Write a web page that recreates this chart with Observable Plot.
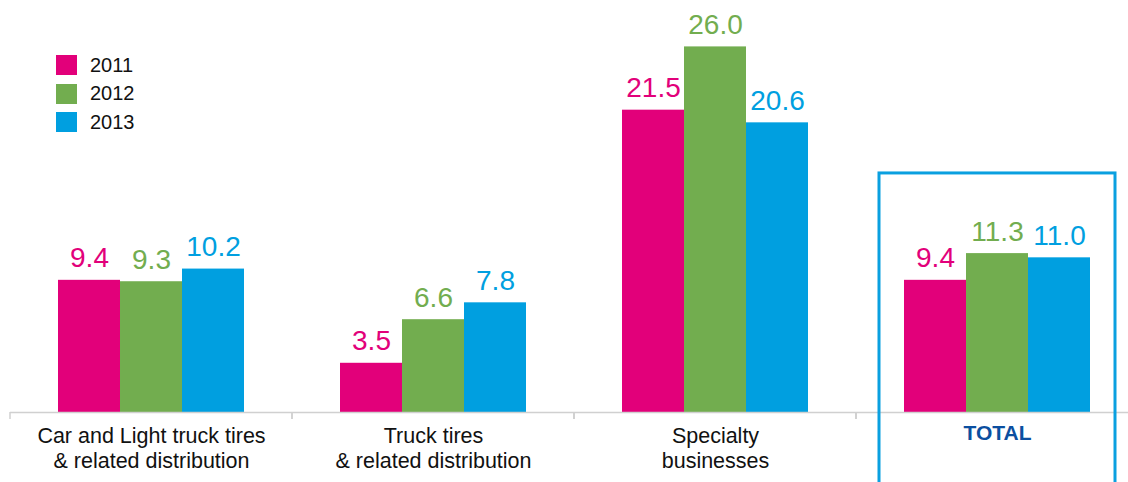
<!DOCTYPE html>
<html>
<head>
<meta charset="utf-8">
<script src="https://cdn.jsdelivr.net/npm/d3@7"></script>
<script src="https://cdn.jsdelivr.net/npm/@observablehq/plot@0.6"></script>
<style>
  html, body { margin: 0; padding: 0; background: #fff; overflow: hidden; }
  #wrap { position: relative; width: 1128px; height: 482px; font-family: "Liberation Sans", Arial, sans-serif; }
  #legend { position: absolute; left: 56px; top: 51px; }
  .item { display: flex; align-items: center; height: 28.5px; font-size: 20px; color: #111; }
  .sw { width: 21px; height: 20px; margin-right: 13px; flex: none; }
</style>
</head>
<body>
<div id="wrap"><div id="legend"></div></div>
<script>
const categories = ["Car and Light truck tires", "Truck tires", "Specialty businesses", "TOTAL"];
const categoryLabels = ["Car and Light truck tires\n& related distribution", "Truck tires\n& related distribution", "Specialty\nbusinesses", "TOTAL"];
const years = ["2011", "2012", "2013"];
const values2011 = [9.4, 3.5, 21.5, 9.4];
const values2012 = [9.3, 6.6, 26.0, 11.3];
const values2013 = [10.2, 7.8, 20.6, 11.0];
const colors = ["#e2007a", "#72ad4f", "#009fe0"];
const totalBoxTop = 17;

const series = [values2011, values2012, values2013];
const data = [];
categories.forEach((c, i) => years.forEach((y, j) => data.push({cat: c, year: y, value: series[j][i]})));
const labelData = categories.map((c, i) => ({cat: c, label: categoryLabels[i]}));

const font = "'Liberation Sans', Arial, sans-serif";

const boundaryTicks = (index, scales, values, dimensions) => {
  const g = d3.create("svg:g");
  const fx = scales.fx;
  const y0 = dimensions.height - dimensions.marginBottom;
  if (fx) {
    for (const c of categories) {
      const x = fx(c);
      g.append("line").attr("x1", x).attr("x2", x).attr("y1", y0).attr("y2", y0 + 7)
        .attr("stroke", "#d0d0d0").attr("stroke-width", 1.5);
    }
  }
  return g.node();
};

const chart = Plot.plot({
  width: 1128,
  height: 482,
  marginTop: 0,
  marginBottom: 70,
  marginLeft: 10,
  marginRight: -10,
  style: {fontFamily: font, background: "transparent"},
  fx: {domain: categories, padding: 0, axis: null},
  x: {domain: years, paddingInner: 0, paddingOuter: 0.74, axis: null},
  y: {domain: [0, 29.3], axis: null},
  color: {domain: years, range: colors},
  marks: [
    Plot.barY(data, {fx: "cat", x: "year", y: "value", fill: "year"}),
    Plot.text(data, {fx: "cat", x: "year", y: "value", text: d => d3.format(".1f")(d.value),
      fill: "year", fontSize: 28, lineAnchor: "bottom", dy: -13}),
    Plot.ruleY([0], {stroke: "#d0d0d0", strokeWidth: 1.5}),
    boundaryTicks,
    Plot.text(labelData.filter(d => d.cat !== "TOTAL"), {fx: "cat", text: "label", frameAnchor: "bottom", lineAnchor: "top", dy: 13,
      fontSize: 21.5, lineHeight: 1.163, fill: "#111"}),
    Plot.text(labelData.filter(d => d.cat === "TOTAL"), {fx: "cat", text: "label", frameAnchor: "bottom", lineAnchor: "top", dy: 13,
      fontSize: 21, fill: "#0b4fa0", fontWeight: "bold"}),
    Plot.rect(labelData.filter(d => d.cat === "TOTAL"), {fx: "cat", y1: 0, y2: totalBoxTop,
      insetLeft: 23, insetRight: 23, insetBottom: -80, fill: "none", stroke: "#0aa0e0", strokeWidth: 3})
  ]
});
document.getElementById("wrap").prepend(chart);

const legend = document.getElementById("legend");
years.forEach((y, i) => {
  const it = document.createElement("div");
  it.className = "item";
  it.innerHTML = `<div class="sw" style="background:${colors[i]}"></div><span>${y}</span>`;
  legend.appendChild(it);
});
</script>
</body>
</html>
